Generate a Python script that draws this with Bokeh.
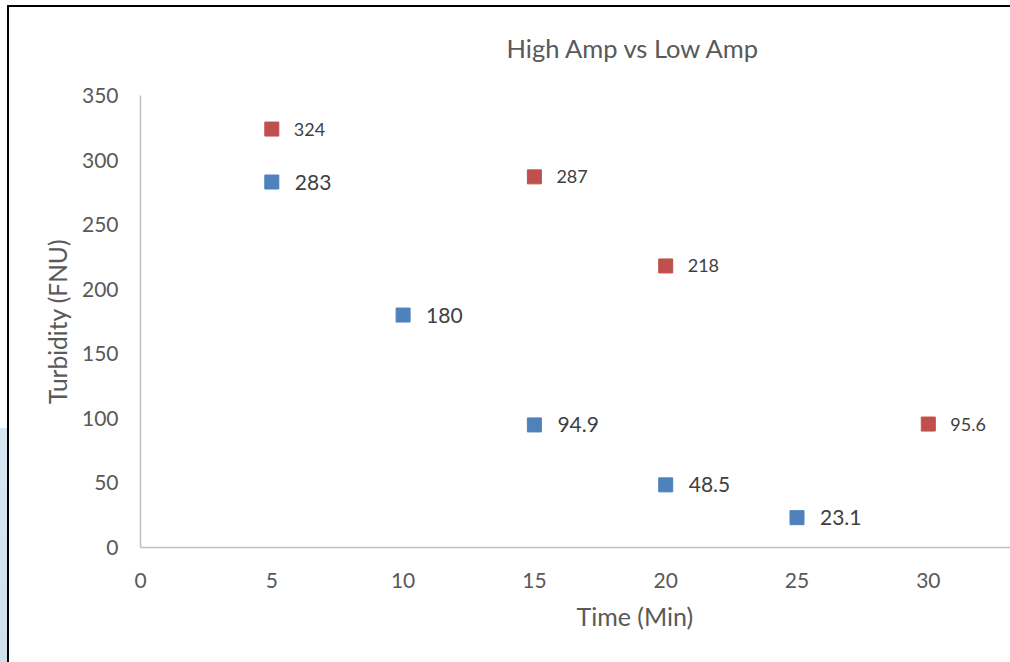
from bokeh.plotting import figure
from bokeh.models import (Range1d, FixedTicker, Title, ColumnDataSource, InlineStyleSheet,
                          GlobalInlineStyleSheet)
from bokeh.core.properties import value
from bokeh.embed import file_html
from bokeh.resources import INLINE

# data
low_time = [5, 10, 15, 20, 25]
low_turb = [283, 180, 94.9, 48.5, 23.1]
high_time = [5, 15, 20, 30]
high_turb = [324, 287, 218, 95.6]
x_ticks = [0, 5, 10, 15, 20, 25, 30]
y_ticks = [0, 50, 100, 150, 200, 250, 300, 350]

FONT = "Lato"
GREY = "#595959"
BLUE = "#4F81BD"
RED = "#C0504D"

p = figure(width=1010, height=662, output_backend="svg", toolbar_location=None,
           x_range=Range1d(0, 33.13), y_range=Range1d(0, 350),
           min_border_left=140, min_border_right=0, min_border_top=95, min_border_bottom=115)
p.outline_line_color = None
p.grid.visible = False
p.background_fill_color = "white"
p.border_fill_color = "white"

p.title.text = "High Amp vs Low Amp"
p.title.align = "left"
p.title.vertical_align = "top"
p.title.offset = 366
p.title.standoff = 61
p.title.text_font = FONT
p.title.text_font_size = "25.5px"
p.title.text_font_style = "normal"
p.title.text_color = GREY

for ax in (p.xaxis[0], p.yaxis[0]):
    ax.axis_line_color = "#BFBFBF"
    ax.axis_line_width = 1.5
    ax.major_tick_line_color = None
    ax.minor_tick_line_color = None
    ax.major_tick_out = 0
    ax.major_tick_in = 0
    ax.major_label_text_font = FONT
    ax.major_label_text_font_size = "21px"
    ax.major_label_text_color = GREY
    ax.axis_label_text_font = FONT
    ax.axis_label_text_font_size = "24.5px"
    ax.axis_label_text_font_style = "normal"
    ax.axis_label_text_color = GREY

p.xaxis.ticker = FixedTicker(ticks=x_ticks)
p.yaxis.ticker = FixedTicker(ticks=y_ticks)
p.yaxis.major_label_standoff = 22
p.xaxis.major_label_standoff = 25
p.yaxis.axis_label = "Turbidity (FNU)"
p.yaxis.axis_label_standoff = 7

xl = Title(text="Time (Min)", align="left", offset=436, standoff=16,
           text_font=FONT, text_font_size="25px", text_font_style="normal", text_color=GREY)
p.add_layout(xl, "below")

low = ColumnDataSource(dict(x=low_time, y=low_turb, t=[str(v) for v in low_turb]))
high = ColumnDataSource(dict(x=high_time, y=high_turb, t=[str(v) for v in high_turb]))

p.scatter("x", "y", source=low, marker="square", size=14, fill_color=BLUE, line_color=BLUE)
p.scatter("x", "y", source=high, marker="square", size=14, fill_color=RED, line_color=RED)
p.text("x", "y", text="t", source=low, x_offset=23, text_baseline="middle",
       text_font=value(FONT), text_font_size="21px", text_color="#404040")
p.text("x", "y", text="t", source=high, x_offset=22, text_baseline="middle",
       text_font=value(FONT), text_font_size="18px", text_color="#404040")

# frame border of the original picture (page decoration), only on the figure itself
p.css_classes = ["refframe"]
p.stylesheets = [
    GlobalInlineStyleSheet(css="html, body { margin: 0; overflow: hidden !important; scrollbar-width: none; }"),
    InlineStyleSheet(css="""
:host(.refframe) { overflow: hidden !important; scrollbar-width: none; }
:host(.refframe)::-webkit-scrollbar { display: none; width: 0; height: 0; }
:host(.refframe)::before { content: ''; position: absolute; left: 0px; top: 5px; width: 1010px; height: 657px;
  background: linear-gradient(black, black) 7px 0px / 1003px 2px no-repeat,
              linear-gradient(black, black) 7px 0px / 2px 657px no-repeat,
              linear-gradient(to bottom, #D8E8F3, #CFDFEB) 0px 423px / 7px 234px no-repeat;
  pointer-events: none; z-index: 10; }
"""),
]

open("out.html", "w").write(file_html(p, INLINE))
